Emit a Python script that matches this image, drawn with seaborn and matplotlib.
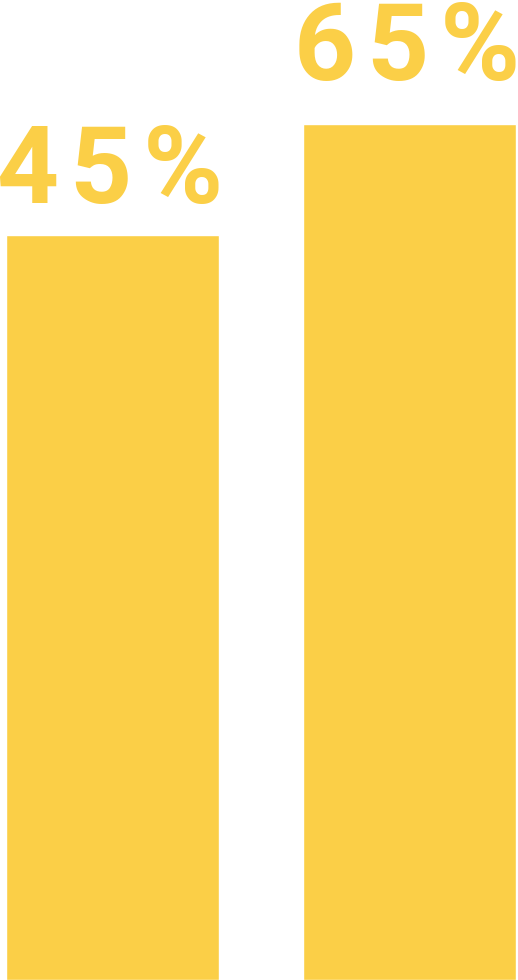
import matplotlib
matplotlib.use('Agg')
import matplotlib.pyplot as plt
import pandas as pd
import seaborn as sns

# Data
categories = ['A', 'B']
labels = ['45%', '65%']
# bar heights as share of the chart height (the bars are not drawn to scale)
bar_heights = [76.0, 87.3]

bar_color = '#FBCF47'
label_gaps = [23, 32]  # points between bar top and label baseline

df = pd.DataFrame({'category': categories, 'height': bar_heights, 'label': labels})

sns.set_theme(style='white')
plt.rcParams['font.family'] = ['Roboto', 'DejaVu Sans']

fig = plt.figure(figsize=(5.18, 9.8), dpi=100)
ax = fig.add_axes([0, 0, 1, 1])

sns.barplot(data=df, x='category', y='height', color=bar_color, saturation=1,
            width=0.717, ax=ax)

for i, row in df.iterrows():
    # wide letter spacing like the original
    spaced = '\u200a'.join(row['label'])
    ax.annotate(spaced, xy=(i, row['height']), xytext=(-2, label_gaps[i]),
                textcoords='offset points', ha='center', va='baseline',
                fontsize=78, fontweight='bold', color=bar_color)

ax.set_xlim(-0.379, 1.365)
ax.set_ylim(0, 100)
ax.set_axis_off()

fig.savefig('out.png', dpi=100)
